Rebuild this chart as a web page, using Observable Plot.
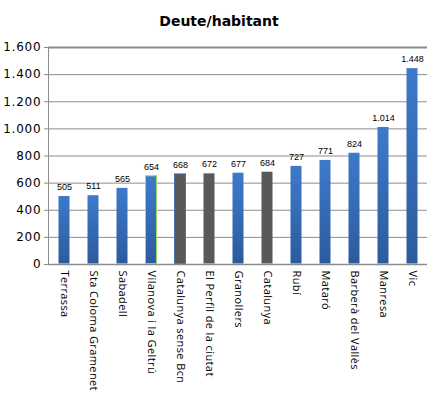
<!DOCTYPE html>
<html>
<head>
<meta charset="utf-8">
<script src="https://cdn.jsdelivr.net/npm/d3@7"></script>
<script src="https://cdn.jsdelivr.net/npm/@observablehq/plot@0.6"></script>
<style>
  body { margin: 0; background: #fff; }
  #wrap { width: 436px; height: 399px; position: relative; }
  #title { height: 36px; font-family: "DejaVu Sans", sans-serif; font-weight: bold; font-size: 14px; text-align: center; line-height: 42px; color: #000; padding-left: 2px; }
</style>
</head>
<body>
<div id="wrap">
  <div id="title">Deute/habitant</div>
  <div id="chart"></div>
</div>
<script>
const categories = ["Terrassa","Sta Coloma Gramenet","Sabadell","Vilanova i la Geltrú","Catalunya sense Bcn","El Perfil de la ciutat","Granollers","Catalunya","Rubí","Mataró","Barberà del Vallès","Manresa","Vic"];
const values = [505,511,565,654,668,672,677,684,727,771,824,1014,1448];
const kinds = ["city","city","city","city","aggregate","aggregate","city","aggregate","city","city","city","city","city"];
const yTicks = [0,200,400,600,800,1000,1200,1400,1600];

const data = categories.map((c, i) => ({name: c, value: values[i], kind: kinds[i], idx: i}));
const fmt = v => d3.format(",")(v).replace(/,/g, ".");

const defsMark = () => {
  const defs = d3.create("svg:defs");
  const g = defs.append("linearGradient").attr("id", "blueGrad").attr("x1", 0).attr("y1", 0).attr("x2", 0).attr("y2", 1);
  g.append("stop").attr("offset", "0%").attr("stop-color", "#3d7acb");
  g.append("stop").attr("offset", "100%").attr("stop-color", "#2c5b9c");
  return defs.node();
};

const strokeFor = d => d.idx === 3 ? "#9bdc6e" : (d.idx === 4 ? "#4a73a8" : "none");

const chart = Plot.plot({
  width: 436,
  height: 363,
  marginTop: 11,
  marginLeft: 48,
  marginRight: 9,
  marginBottom: 135,
  style: { fontFamily: "DejaVu Sans, sans-serif", background: "#fff" },
  x: { domain: categories, paddingInner: 0.59, paddingOuter: 0.275, label: null },
  y: { domain: [0, 1600], ticks: yTicks, label: null },
  marks: [
    defsMark,
    Plot.ruleY(yTicks.slice(1, -1), { stroke: "#8c8c8c", strokeOpacity: 1, strokeWidth: 1 }),
    Plot.ruleY([1600], { stroke: "#8c8c8c", strokeWidth: 2 }),
    Plot.barY(data, {
      x: "name", y: "value",
      fill: d => d.kind === "aggregate" ? "#595959" : "url(#blueGrad)",
      stroke: strokeFor, strokeWidth: 1, inset: 0.5
    }),
    Plot.text(data, {
      x: "name", y: "value", text: d => fmt(d.value), dy: -9,
      fontSize: 9, fontFamily: "Liberation Sans, sans-serif", fill: "#000",
      style: "letter-spacing:-0.8px"
    }),
    Plot.axisY({ ticks: yTicks, tickFormat: fmt, tickSize: 4, tickPadding: 3, stroke: "#8c8c8c", strokeOpacity: 1, fontSize: 12, fill: "#000", label: null }),
    Plot.axisX({ tickRotate: 90, tickSize: 0, tickPadding: 6, fontSize: 11, fontFamily: "Open Sans, sans-serif", fill: "#000", label: null }),
    Plot.ruleY([0], { stroke: "#8c8c8c", strokeWidth: 1.5 })
  ]
});

const svg = d3.select(chart);
svg.append("line").attr("x1", 48.5).attr("x2", 48.5).attr("y1", 11).attr("y2", 228).attr("stroke", "#8c8c8c");
svg.selectAll("g[aria-label='y-axis tick label'] text").style("letter-spacing", "0.8px");
svg.selectAll("g[aria-label='x-axis tick label'] text").style("letter-spacing", "0.4px");
document.getElementById("chart").appendChild(chart);
</script>
</body>
</html>
